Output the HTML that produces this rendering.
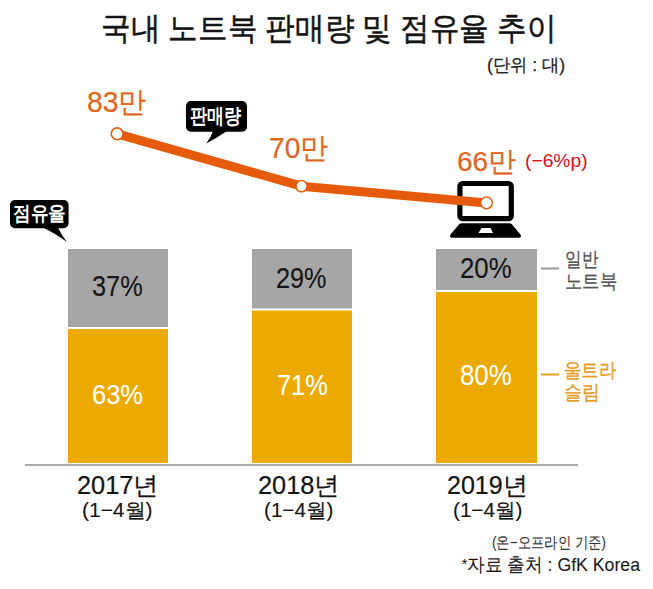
<!DOCTYPE html>
<html><head><meta charset="utf-8">
<style>
html,body{margin:0;padding:0;background:#fff;}
body{width:653px;height:589px;position:relative;overflow:hidden;font-family:"Liberation Sans",sans-serif;}
.t{position:absolute;white-space:nowrap;line-height:1;transform-origin:0 0;font-family:"Liberation Sans",sans-serif;}
svg{position:absolute;left:0;top:0;}
</style></head><body>
<svg width="653" height="589" viewBox="0 0 653 589">
  <!-- bars -->
  <rect x="68" y="249" width="100" height="78" fill="#a6a6a6"/>
  <rect x="68" y="329" width="100" height="134" fill="#eca900"/>
  <rect x="252" y="249" width="100" height="59.5" fill="#a6a6a6"/>
  <rect x="252" y="310.5" width="100" height="152.5" fill="#eca900"/>
  <rect x="436" y="249" width="101" height="41" fill="#a6a6a6"/>
  <rect x="436" y="292" width="101" height="171" fill="#eca900"/>
  <!-- baseline -->
  <rect x="25" y="464" width="553" height="1.9" fill="#a6a6a6"/>
  <!-- legend dashes -->
  <rect x="541" y="267.5" width="18" height="2" fill="#9a9a9a"/>
  <rect x="541" y="373.5" width="18" height="2" fill="#e8a227"/>
  <!-- laptop -->
  <rect x="459.9" y="183.5" width="51.4" height="35.2" rx="3" fill="none" stroke="#000" stroke-width="5.2"/>
  <path d="M462,223.2 L509.5,223.2 Q511.5,223.2 512.5,225 L520.5,234.5 Q522,237.7 518.5,237.7 L452.5,237.7 Q449,237.7 450.5,234.5 L458.5,225 Q459.5,223.2 462,223.2 Z" fill="#000"/>
  <path d="M481.5,228 L490.5,228 L493,233 L478.5,233 Z" fill="#fff"/>
  <!-- line -->
  <polyline points="117.2,133.8 301.5,186.2 486.5,202.9" fill="none" stroke="#e65b0b" stroke-width="9" stroke-linejoin="round"/>
  <!-- circles -->
  <circle cx="117.2" cy="133.8" r="5.9" fill="#fff" stroke="#e65b0b" stroke-width="1.6"/>
  <circle cx="301.5" cy="186.2" r="5.6" fill="#fff" stroke="#e65b0b" stroke-width="1.5"/>
  <circle cx="486.5" cy="202.9" r="5.8" fill="#fff" stroke="#e65b0b" stroke-width="1.5"/>
  <!-- bubbles -->
  <rect x="186" y="101" width="61" height="30.7" rx="5" fill="#000"/>
  <path d="M213.5,130 Q211,137 206.3,143.4 Q218.5,137 228.5,130 Z" fill="#000"/>
  <rect x="10" y="200" width="58.6" height="28.3" rx="5" fill="#000"/>
  <path d="M41.7,227 Q55,233 66.8,242 Q61,234 57.6,227 Z" fill="#000"/>
</svg>

<div class="t" id="title" style="left:101.00px;top:11.60px;font-size:32.18px;color:#141414;font-weight:normal;transform:scaleX(0.9243);-webkit-text-stroke:0.5px #141414">국내 노트북 판매량 및 점유율 추이</div>
<div class="t" id="unit" style="left:487.00px;top:55.80px;font-size:18.32px;color:#222222;font-weight:normal;transform:scaleX(0.9596);-webkit-text-stroke:0.25px #222222">(단위 : 대)</div>
<div class="t" id="v83" style="left:87.00px;top:87.60px;font-size:29.16px;color:#e0661c;font-weight:normal;transform:scaleX(0.9693);-webkit-text-stroke:0.2px #e0661c">83만</div>
<div class="t" id="v70" style="left:268.80px;top:133.80px;font-size:29.12px;color:#e0661c;font-weight:normal;transform:scaleX(0.9683);-webkit-text-stroke:0.2px #e0661c">70만</div>
<div class="t" id="v66" style="left:456.70px;top:147.70px;font-size:28.00px;color:#e0661c;font-weight:normal;transform:scaleX(1.0006);-webkit-text-stroke:0.2px #e0661c">66만</div>
<div class="t" id="chg" style="left:524.90px;top:151.70px;font-size:18.28px;color:#e0101e;font-weight:normal;transform:scaleX(1.0542);-webkit-text-stroke:0.05px #e0101e">(−6%p)</div>
<div class="t" id="bb1" style="left:190.00px;top:106.45px;font-size:20.64px;color:#ffffff;font-weight:bold;transform:scaleX(0.8111);-webkit-text-stroke:0px #ffffff">판매량</div>
<div class="t" id="bb2" style="left:13.00px;top:202.90px;font-size:20.06px;color:#ffffff;font-weight:bold;transform:scaleX(0.8822);-webkit-text-stroke:0px #ffffff">점유율</div>
<div class="t" id="p37" style="left:92.00px;top:272.30px;font-size:28.98px;color:#161616;font-weight:normal;transform:scaleX(0.8744);-webkit-text-stroke:0.15px #161616">37%</div>
<div class="t" id="p29" style="left:276.40px;top:263.70px;font-size:28.97px;color:#161616;font-weight:normal;transform:scaleX(0.8718);-webkit-text-stroke:0.15px #161616">29%</div>
<div class="t" id="p20" style="left:460.40px;top:253.70px;font-size:28.97px;color:#161616;font-weight:normal;transform:scaleX(0.8906);-webkit-text-stroke:0.15px #161616">20%</div>
<div class="t" id="p63" style="left:91.70px;top:380.60px;font-size:27.53px;color:#ffffff;font-weight:normal;transform:scaleX(0.9265);-webkit-text-stroke:0.15px #ffffff">63%</div>
<div class="t" id="p71" style="left:276.60px;top:371.00px;font-size:28.95px;color:#ffffff;font-weight:normal;transform:scaleX(0.8757);-webkit-text-stroke:0.15px #ffffff">71%</div>
<div class="t" id="p80" style="left:459.90px;top:361.00px;font-size:28.95px;color:#ffffff;font-weight:normal;transform:scaleX(0.8932);-webkit-text-stroke:0.15px #ffffff">80%</div>
<div class="t" id="lg1a" style="left:565.40px;top:248.70px;font-size:20.06px;color:#555555;font-weight:normal;transform:scaleX(0.8295);-webkit-text-stroke:0.3px #555555">일반</div>
<div class="t" id="lg1b" style="left:564.60px;top:271.00px;font-size:20.06px;color:#555555;font-weight:normal;transform:scaleX(0.8683);-webkit-text-stroke:0.3px #555555">노트북</div>
<div class="t" id="lg2a" style="left:564.30px;top:360.00px;font-size:20.06px;color:#e39c1f;font-weight:normal;transform:scaleX(0.8728);-webkit-text-stroke:0.3px #e39c1f">울트라</div>
<div class="t" id="lg2b" style="left:564.30px;top:382.00px;font-size:20.00px;color:#e39c1f;font-weight:normal;transform:scaleX(0.8910);-webkit-text-stroke:0.3px #e39c1f">슬림</div>
<div class="t" id="y17" style="left:76.80px;top:472.60px;font-size:25.00px;color:#141414;font-weight:normal;transform:scaleX(1.0134);-webkit-text-stroke:0.2px #141414">2017년</div>
<div class="t" id="m17" style="left:82.30px;top:500.30px;font-size:20.02px;color:#141414;font-weight:normal;transform:scaleX(1.0468);-webkit-text-stroke:0.12px #141414">(1−4월)</div>
<div class="t" id="y18" style="left:258.20px;top:472.60px;font-size:25.00px;color:#141414;font-weight:normal;transform:scaleX(1.0144);-webkit-text-stroke:0.2px #141414">2018년</div>
<div class="t" id="m18" style="left:263.70px;top:500.30px;font-size:20.02px;color:#141414;font-weight:normal;transform:scaleX(1.0322);-webkit-text-stroke:0.12px #141414">(1−4월)</div>
<div class="t" id="y19" style="left:447.10px;top:472.60px;font-size:25.00px;color:#141414;font-weight:normal;transform:scaleX(1.0002);-webkit-text-stroke:0.2px #141414">2019년</div>
<div class="t" id="m19" style="left:452.80px;top:500.30px;font-size:20.02px;color:#141414;font-weight:normal;transform:scaleX(1.0320);-webkit-text-stroke:0.12px #141414">(1−4월)</div>
<div class="t" id="ft1" style="left:491.50px;top:533.70px;font-size:16.14px;color:#333333;font-weight:normal;transform:scaleX(0.8336);-webkit-text-stroke:0.1px #333333">(온−오프라인 기준)</div>
<div class="t" id="ft2" style="left:461.50px;top:554.80px;font-size:19.07px;color:#1a1a1a;font-weight:normal;transform:scaleX(0.9283);-webkit-text-stroke:0.1px #1a1a1a"><span style="font-size:0.75em;position:relative;top:-0.1em">*</span>자료 출처 : GfK Korea</div>
</body></html>
